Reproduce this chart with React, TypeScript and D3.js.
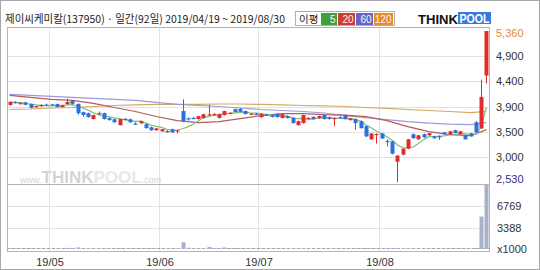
import React from 'react';
import * as d3 from 'd3';

// ---- data ----
const titleText = '제이씨케미칼(137950) · 일간(92일) 2019/04/19 ~ 2019/08/30';
const opens = [3975,4030,4000,4020,3990,3935,3950,3980,3985,3990,3935,3990,4050,3995,3840,3820,3710,3810,3820,3725,3705,3595,3715,3705,3625,3630,3615,3555,3500,3480,3475,3520,3490,3860,3725,3730,3710,3730,3785,3795,3730,3785,3815,3895,3900,3860,3800,3810,3745,3790,3785,3805,3730,3765,3730,3595,3635,3720,3750,3725,3785,3745,3720,3745,3785,3690,3710,3670,3575,3330,3420,3440,3300,3290,2910,3045,3155,3425,3330,3425,3405,3385,3390,3460,3420,3500,3425,3405,3440,3650,3535,4525];
const highs = [4040,4045,4030,4035,4000,3960,3985,4000,3995,4000,3980,4090,4060,4000,3850,3830,3790,3850,3830,3740,3720,3715,3730,3720,3650,3680,3630,3570,3545,3525,3500,3530,3510,4080,3740,3750,3770,3810,3975,3820,3810,3865,3840,3905,3915,3870,3820,3825,3815,3805,3795,3815,3810,3780,3745,3680,3790,3745,3760,3775,3795,3755,3740,3760,3795,3730,3720,3685,3590,3445,3440,3450,3330,3300,3030,3160,3335,3440,3410,3440,3450,3395,3400,3470,3490,3510,3490,3415,3450,3670,4450,5360];
const lows = [3960,4000,3985,3970,3910,3920,3940,3960,3960,3930,3925,3980,3985,3790,3750,3740,3700,3790,3700,3680,3640,3590,3690,3640,3600,3620,3530,3490,3490,3470,3455,3455,3440,3650,3680,3710,3700,3720,3770,3780,3720,3775,3800,3835,3840,3795,3785,3790,3735,3770,3740,3740,3720,3720,3625,3585,3625,3705,3700,3715,3700,3700,3575,3720,3700,3680,3510,3530,3370,3320,3250,3340,3195,3050,2530,3030,3145,3340,3320,3360,3395,3340,3320,3420,3410,3440,3415,3325,3380,3455,3525,4375];
const closes = [4030,4010,4010,3975,3920,3955,3975,3970,3970,3935,3970,4030,3995,3820,3785,3745,3785,3820,3710,3690,3650,3710,3705,3650,3615,3670,3540,3500,3535,3520,3485,3460,3500,3670,3705,3725,3765,3800,3800,3805,3800,3860,3825,3840,3845,3805,3810,3800,3805,3780,3750,3745,3800,3730,3635,3670,3785,3730,3710,3765,3710,3710,3730,3725,3710,3725,3635,3540,3385,3440,3430,3345,3290,3060,3025,3155,3330,3350,3405,3365,3445,3350,3380,3425,3480,3445,3480,3330,3385,3460,4125,5360];
// volume, x1000 shares
const volumes = [150,90,70,80,120,60,70,50,60,80,70,180,150,260,140,110,90,80,120,90,100,130,60,90,70,80,110,120,70,80,60,90,100,1060,200,120,110,150,320,140,120,240,110,150,100,90,70,60,90,60,70,80,90,70,110,90,130,60,60,70,80,60,90,50,70,60,120,110,150,120,100,90,120,140,160,140,130,90,80,70,80,60,70,90,80,70,90,80,60,150,5150,10154];

const maDays = [0,4,8,12,16,20,24,28,32,36,40,44,48,52,56,60,64,68,72,76,80,84,88,91];
const ma20 = [4153,4115,4077,4058,4002,3926,3851,3757,3681,3643,3662,3719,3775,3813,3813,3794,3785,3757,3681,3568,3474,3417,3398,3511];
const ma60 = [4172,4153,4134,4115,4096,4077,4058,4021,3983,3964,3945,3917,3889,3870,3851,3823,3775,3738,3700,3662,3634,3615,3606,3643];
const ma120 = [3889,3898,3917,3926,3945,3964,3974,3983,3983,3983,3992,3992,3983,3974,3964,3955,3945,3926,3908,3889,3870,3851,3832,3855];

const monthTickDays = [8, 29, 48, 71];
const monthTickLabels = ['19/05', '19/06', '19/07', '19/08'];

const priceMin = 2530;
const priceMax = 5360;
const priceTickValues = [4888, 4417, 3945, 3473, 3002];
const priceTickLabels = ['4,900', '4,400', '3,900', '3,500', '3,000'];

const volMax = 10154;
const volTickValues = [3388, 6769];
const volTickLabels = ['3388', '6769'];

const legendItems = ['5', '20', '60', '120'];
const legendColors = ['#3f9f3f', '#d23a34', '#6565cc', '#e38d22'];
const maColors = { ma5: '#7cc27c', ma20: '#b85a5a', ma60: '#9b9bd9', ma120: '#d6a865' };

const NUM_FONT = '"Liberation Sans", Arial, sans-serif';
const KR_FONT = '"Noto Sans CJK KR", "Noto Sans", sans-serif';

export default function App() {
  const N = closes.length;
  const left = 7, right = 489, top = 27, priceBottom = 184.5, volTop = 185, volBottom = 249, frameBottom = 251;
  const x = d3.scaleBand<number>().domain(d3.range(N)).range([left, right]).padding(0);
  const step = x.step();
  const cx = (i: number) => (x(i) as number) + step / 2;
  const y = d3.scaleLinear().domain([priceMin, priceMax]).range([182, 31]);
  const yv = d3.scaleLinear().domain([0, volMax]).range([volBottom, volTop]);
  const bodyW = 4;

  const ma5 = closes.map((_, i) => d3.mean(closes.slice(Math.max(0, i - 4), i + 1)) as number);
  const lineAll = d3.line<number>().x((_, i) => cx(i)).y((d) => y(d));
  const lineSampled = d3.line<number>().x((_, k) => cx(maDays[k])).y((d) => y(d));

  const red = '#e32b2b';
  const blue = '#2f6fde';
  const boxX = [321, 338, 356, 374];
  const boxW = [16, 17, 17, 19];

  return (
    <svg width={540} height={270} style={{ position: 'fixed', left: 0, top: 0, background: '#fff' }}>
      <rect x={0.5} y={0.5} width={539} height={269} fill="#fff" stroke="#a8a8a8" />
      {/* title */}
      <text x={5} y={23} fontFamily={KR_FONT} fontSize={11} fill="#222" textLength={280} lengthAdjust="spacingAndGlyphs">{titleText}</text>
      {/* legend */}
      <rect x={295.5} y={11.5} width={99} height={14} fill="#fff" stroke="#b0b0b0" />
      <text x={299} y={22.5} fontFamily={KR_FONT} fontSize={10.5} fill="#222">이평</text>
      {legendItems.map((t, k) => (
        <g key={t}>
          <rect x={boxX[k]} y={13} width={boxW[k]} height={12} fill={legendColors[k]} />
          <text x={boxX[k] + boxW[k] - 1.5} y={22.8} textAnchor="end" fontFamily={NUM_FONT} fontSize={10} fill="#fdf3f3">{t}</text>
        </g>
      ))}
      {/* logo */}
      <text x={418} y={24} fontFamily={NUM_FONT} fontWeight={900} fontSize={13} fill="#111" textLength={40} lengthAdjust="spacingAndGlyphs">THINK</text>
      <rect x={458} y={12} width={33} height={12} fill="#3b78dc" />
      <text x={459.5} y={23} fontFamily={NUM_FONT} fontWeight={900} fontSize={12.5} fill="#fff" textLength={30} lengthAdjust="spacingAndGlyphs">POOL</text>

      {/* grid */}
      {priceTickValues.map((v) => (
        <line key={v} x1={left} x2={right} y1={Math.round(y(v)) + 0.5} y2={Math.round(y(v)) + 0.5} stroke="#e2e2e2" />
      ))}
      {volTickValues.map((v) => (
        <line key={v} x1={left} x2={right} y1={Math.round(yv(v)) + 0.5} y2={Math.round(yv(v)) + 0.5} stroke="#e2e2e2" />
      ))}
      {monthTickDays.map((d) => (
        <line key={d} x1={Math.round(x(d) as number) + 0.5} x2={Math.round(x(d) as number) + 0.5} y1={top} y2={frameBottom} stroke="#e2e2e2" />
      ))}

      {/* watermark */}
      <text x={20} y={183} fontFamily={NUM_FONT} fill="#d4d4d4">
        <tspan fontSize={9}>www.</tspan>
        <tspan fontSize={17} fontWeight={900}>THINK</tspan>
        <tspan fontSize={17} fontWeight={900} fill="#e8e8e8">POOL</tspan>
        <tspan fontSize={9}>.com</tspan>
      </text>

      {/* moving averages */}
      <path d={lineSampled(ma120) || ''} fill="none" stroke={maColors.ma120} strokeWidth={1.2} />
      <path d={lineSampled(ma60) || ''} fill="none" stroke={maColors.ma60} strokeWidth={1.2} />
      <path d={lineSampled(ma20) || ''} fill="none" stroke={maColors.ma20} strokeWidth={1.2} />
      <path d={lineAll(ma5) || ''} fill="none" stroke={maColors.ma5} strokeWidth={1.2} />

      {/* candles */}
      {closes.map((c, i) => {
        const o = opens[i];
        const up = c >= o;
        const col = up ? red : blue;
        const xc = Math.round(cx(i));
        const yTop = y(Math.max(o, c));
        const yBot = y(Math.min(o, c));
        return (
          <g key={i}>
            <line x1={xc + 0.5} x2={xc + 0.5} y1={y(highs[i])} y2={y(lows[i])} stroke={col} strokeWidth={1} />
            <rect x={xc - bodyW / 2 + 0.5} y={yTop} width={bodyW} height={Math.max(1.2, yBot - yTop)} fill={col} />
          </g>
        );
      })}

      {/* volume */}
      <line x1={left} x2={right} y1={volBottom - 0.5} y2={volBottom - 0.5} stroke="#a0a0a0" strokeDasharray="3,2" />
      {volumes.map((v, i) => {
        const xc = Math.round(cx(i));
        return <rect key={i} x={xc - 1.5} y={yv(v)} width={4} height={volBottom - yv(v)} fill="#a9b1ca" />;
      })}

      {/* frame */}
      <rect x={left + 0.5} y={top + 0.5} width={right - left} height={frameBottom - top} fill="none" stroke="#b4b4b4" />
      <line x1={left} x2={right} y1={priceBottom} y2={priceBottom} stroke="#b4b4b4" />

      {/* price axis labels */}
      <text x={496} y={y(priceMax) + 2} dy="0.35em" fontFamily={NUM_FONT} fontSize={11} fill="#e08a35">{d3.format(',')(priceMax)}</text>
      {priceTickValues.map((v, k) => (
        <text key={v} x={496} y={Math.round(y(v)) + 0.5} dy="0.35em" fontFamily={NUM_FONT} fontSize={11} fill="#333">{priceTickLabels[k]}</text>
      ))}
      <text x={496} y={Math.min(y(priceMin), 179.5)} dy="0.35em" fontFamily={NUM_FONT} fontSize={11} fill="#2f2f8f">{d3.format(',')(priceMin)}</text>
      {volTickValues.map((v, k) => (
        <text key={v} x={497} y={Math.round(yv(v)) + 0.5} dy="0.35em" fontFamily={NUM_FONT} fontSize={11} fill="#333">{volTickLabels[k]}</text>
      ))}
      <text x={497} y={249} dy="0.35em" fontFamily={NUM_FONT} fontSize={11} fill="#333">x1000</text>

      {/* month labels */}
      {monthTickDays.map((d, k) => (
        <text key={d} x={Math.round(x(d) as number) + 1} y={262} dy="0.35em" textAnchor="middle" fontFamily={NUM_FONT} fontSize={11} fill="#333">{monthTickLabels[k]}</text>
      ))}
    </svg>
  );
}
